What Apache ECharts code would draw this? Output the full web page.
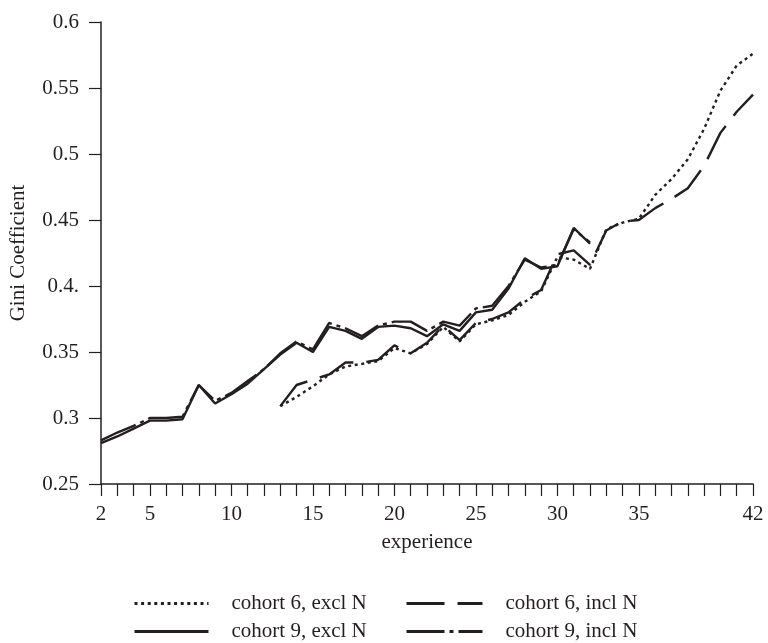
<!DOCTYPE html>
<html>
<head>
<meta charset="utf-8">
<script src="https://cdn.jsdelivr.net/npm/echarts@6/dist/echarts.min.js"></script>
<style>
  html, body { margin: 0; padding: 0; background: #fff; }
  #chart { width: 768px; height: 643px; }
</style>
</head>
<body>
<div id="chart"></div>
<script>
// experience years for each cohort
var experience9 = [2, 3, 4, 5, 6, 7, 8, 9, 10, 11, 12, 13, 14, 15, 16, 17, 18, 19, 20, 21, 22, 23, 24, 25, 26, 27, 28, 29, 30, 31, 32];
var experience6 = [13, 14, 15, 16, 17, 18, 19, 20, 21, 22, 23, 24, 25, 26, 27, 28, 29, 30, 31, 32, 33, 34, 35, 36, 37, 38, 39, 40, 41, 42];

// Gini coefficients
var cohort6Excl = [0.309, 0.316, 0.324, 0.333, 0.339, 0.341, 0.343, 0.353, 0.349, 0.356, 0.369, 0.358, 0.371, 0.374, 0.378, 0.388, 0.396, 0.422, 0.420, 0.413, 0.443, 0.448, 0.451, 0.469, 0.481, 0.496, 0.519, 0.548, 0.567, 0.576];
var cohort6Incl = [0.309, 0.325, 0.329, 0.333, 0.342, 0.342, 0.344, 0.355, 0.349, 0.357, 0.370, 0.359, 0.372, 0.375, 0.380, 0.390, 0.397, 0.424, 0.427, 0.416, 0.442, 0.449, 0.450, 0.459, 0.466, 0.474, 0.491, 0.516, 0.532, 0.545];
var cohort9Excl = [0.281, 0.286, 0.292, 0.298, 0.298, 0.299, 0.325, 0.311, 0.318, 0.326, 0.337, 0.348, 0.357, 0.350, 0.369, 0.366, 0.360, 0.369, 0.370, 0.368, 0.362, 0.371, 0.366, 0.380, 0.382, 0.398, 0.421, 0.413, 0.415, 0.444, 0.432];
var cohort9Incl = [0.283, 0.289, 0.294, 0.300, 0.300, 0.301, 0.325, 0.313, 0.319, 0.328, 0.337, 0.349, 0.358, 0.352, 0.372, 0.368, 0.362, 0.370, 0.373, 0.373, 0.366, 0.373, 0.370, 0.383, 0.385, 0.400, 0.420, 0.414, 0.416, 0.443, 0.433];

// tick labels
var xTickLabels = [2, 5, 10, 15, 20, 25, 30, 35, 42];
var yTickLabels = ['0.25', '0.3', '0.35', '0.4.', '0.45', '0.5', '0.55', '0.6'];

var ink = '#231f20';
var font = 'Liberation Serif, Times New Roman, serif';

function pairs(xs, ys) {
	return xs.map(function (x, i) { return [x, ys[i]]; });
}

function lineSeries(name, xs, ys, dash) {
	return {
		name: name,
		type: 'line',
		symbol: 'none',
		showSymbol: false,
		silent: true,
		lineStyle: { color: ink, width: 2.4, type: dash, cap: 'butt' },
		itemStyle: { color: ink },
		data: pairs(xs, ys)
	};
}

var legendText = { fontFamily: font, fontSize: 21, color: ink, padding: [0, 0, 0, 18] };
var hiddenDot = { color: 'rgba(0,0,0,0)', borderWidth: 0, opacity: 0 };

var option = {
	backgroundColor: '#fff',
	animation: false,
	grid: { left: 99, right: 15, top: 22, bottom: 159 },
	legend: [
		{
			orient: 'vertical',
			left: 133, top: 593,
			padding: 0,
			itemWidth: 74, itemHeight: 14, itemGap: 7,
			itemStyle: hiddenDot,
			lineStyle: { width: 3 },
			textStyle: legendText,
			data: ['cohort 6, excl N', 'cohort 9, excl N']
		},
		{
			orient: 'vertical',
			left: 405, top: 593,
			padding: 0,
			itemWidth: 76, itemHeight: 14, itemGap: 7,
			itemStyle: hiddenDot,
			lineStyle: { width: 3 },
			textStyle: legendText,
			data: ['cohort 6, incl N', 'cohort 9, incl N']
		}
	],
	xAxis: {
		type: 'value',
		min: 2, max: 42, interval: 1,
		name: 'experience',
		nameLocation: 'middle',
		nameGap: 48,
		nameTextStyle: { fontFamily: font, fontSize: 21, color: ink },
		axisLine: { show: true, lineStyle: { color: ink, width: 1.5 } },
		axisTick: { show: true, length: 12, lineStyle: { color: ink, width: 1.2 } },
		splitLine: { show: false },
		axisLabel: {
			margin: 20,
			fontFamily: font, fontSize: 21, color: ink,
			showMaxLabel: true,
			formatter: function (v) { return xTickLabels.indexOf(v) >= 0 ? String(v) : ''; }
		}
	},
	yAxis: {
		type: 'value',
		min: 0.25, max: 0.6, interval: 0.05,
		name: 'Gini Coefficient',
		nameLocation: 'middle',
		nameGap: 72,
		nameTextStyle: { fontFamily: font, fontSize: 21, color: ink },
		axisLine: { show: true, lineStyle: { color: ink, width: 1.5 } },
		axisTick: { show: true, length: 12, lineStyle: { color: ink, width: 1.2 } },
		splitLine: { show: false },
		axisLabel: {
			margin: 22,
			fontFamily: font, fontSize: 21, color: ink,
			formatter: function (v, i) { return yTickLabels[i]; }
		}
	},
	series: [
		lineSeries('cohort 6, excl N', experience6, cohort6Excl, [3, 3.6]),
		lineSeries('cohort 6, incl N', experience6, cohort6Incl, [38, 13]),
		lineSeries('cohort 9, excl N', experience9, cohort9Excl, 'solid'),
		lineSeries('cohort 9, incl N', experience9, cohort9Incl, [38, 5, 4, 5])
	]
};

echarts.init(document.getElementById('chart')).setOption(option);
</script>
</body>
</html>
